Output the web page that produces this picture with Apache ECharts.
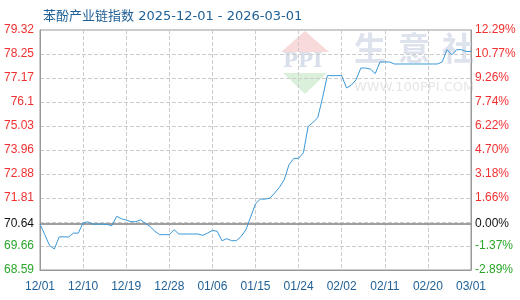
<!DOCTYPE html>
<html>
<head>
<meta charset="utf-8">
<script src="https://cdn.jsdelivr.net/npm/echarts@6/dist/echarts.min.js"></script>
<style>html,body{margin:0;padding:0;background:#fff;}#c{width:520px;height:300px;}</style>
</head>
<body>
<div id="c"></div>
<script>
const titleText = '苯酚产业链指数 2025-12-01 - 2026-03-01';
const dates = [
'12/01','12/02','12/03','12/04','12/05','12/06','12/07','12/08','12/09','12/10',
'12/11','12/12','12/13','12/14','12/15','12/16','12/17','12/18','12/19','12/20',
'12/21','12/22','12/23','12/24','12/25','12/26','12/27','12/28','12/29','12/30',
'12/31','01/01','01/02','01/03','01/04','01/05','01/06','01/07','01/08','01/09',
'01/10','01/11','01/12','01/13','01/14','01/15','01/16','01/17','01/18','01/19',
'01/20','01/21','01/22','01/23','01/24','01/25','01/26','01/27','01/28','01/29',
'01/30','01/31','02/01','02/02','02/03','02/04','02/05','02/06','02/07','02/08',
'02/09','02/10','02/11','02/12','02/13','02/14','02/15','02/16','02/17','02/18',
'02/19','02/20','02/21','02/22','02/23','02/24','02/25','02/26','02/27','02/28',
'03/01'];
const indexValues = [
70.64,70.17,69.68,69.53,70.07,70.07,70.07,70.24,70.24,70.70,
70.74,70.64,70.64,70.64,70.63,70.57,70.99,70.88,70.82,70.75,
70.75,70.83,70.68,70.53,70.32,70.17,70.17,70.17,70.39,70.20,
70.20,70.20,70.20,70.20,70.14,70.24,70.36,70.32,69.90,69.99,
69.90,69.90,70.09,70.39,70.97,71.55,71.76,71.76,71.80,72.03,
72.29,72.63,73.30,73.58,73.58,73.83,75.01,75.19,75.40,76.29,
77.28,77.28,77.28,77.28,76.73,76.85,77.10,77.62,77.62,77.57,
77.37,77.89,77.89,77.89,77.80,77.80,77.80,77.80,77.80,77.80,
77.80,77.80,77.80,77.80,77.90,78.44,78.21,78.44,78.44,78.36,
78.36];
const baseValue = 70.64;
const baseLabelLeft = '70.64';
const baseLabelRight = '0.00%';
const yMin = 68.59, yMax = 79.32;
const leftTicks = ['68.59','69.66','','71.81','72.88','73.96','75.03','76.1','77.17','78.25','79.32'];
const rightTicks = ['-2.89%','-1.37%','','1.66%','3.18%','4.70%','6.22%','7.74%','9.26%','10.77%','12.29%'];
const watermarkChars = ['生','意','社'];
const watermarkUrl = 'WWW.100PPI.COM';

const yInterval = (yMax - yMin) / 10;
function tickIdx(v){ return Math.round((v - yMin) / yInterval); }
function fmt(list){
  return function(v){
    const i = tickIdx(v);
    const s = list[i];
    if (!s) return '';
    return (i < 2 ? '{g|' : '{r|') + s + '}';
  };
}
const fontFam = '"Liberation Sans", Arial, sans-serif';
const richStyles = {
  g: {color:'#2aa52a', fontSize:12, fontFamily:fontFam},
  r: {color:'#f03030', fontSize:12, fontFamily:fontFam}
};
const wmLeft = [354, 398, 442];
const wmGraphics = watermarkChars.map(function(ch, i){
  return {type:'text', silent:true, z:0, left:wmLeft[i], top:32,
    style:{text:ch, fill:'#dde2ed', font:'bold 32px "Noto Sans CJK SC", sans-serif'}};
});

const chart = echarts.init(document.getElementById('c'), null, {renderer:'canvas'});
chart.setOption({
  animation:false,
  backgroundColor:'#fff',
  title:{
    text:titleText, left:38, top:5,
    textStyle:{color:'#1f6096', fontSize:13, fontWeight:'normal', fontFamily:'"DejaVu Sans", "Noto Sans CJK SC", sans-serif'}
  },
  graphic:[
    {type:'polygon', silent:true, z:0, shape:{points:[[305,31],[281,52],[329,52]]}, style:{fill:'#f9dada'}},
    {type:'text', silent:true, z:0, left:283, top:52, style:{text:'PPI', fill:'#d8deea', font:'bold 20px "DejaVu Serif", serif'}},
    {type:'polygon', silent:true, z:0, shape:{points:[[283,73],[327,73],[305,94]]}, style:{fill:'#daf0da'}},
    {type:'text', silent:true, z:0, left:354, top:81, style:{text:watermarkUrl, fill:'#e6e6e6', font:'13px "DejaVu Sans", sans-serif'}}
  ].concat(wmGraphics),
  grid:{left:40, right:49, top:30, bottom:30, show:true, borderColor:'#999', borderWidth:1, backgroundColor:'transparent'},
  xAxis:{
    type:'category', data:dates, boundaryGap:false,
    axisLine:{show:true, lineStyle:{color:'#999'}},
    axisTick:{show:false},
    axisLabel:{interval:8, color:'#1f6096', fontSize:12, fontFamily:fontFam, margin:11},
    splitLine:{show:true, interval:8, lineStyle:{color:'#ccc', type:'dashed'}}
  },
  yAxis:[
    {
      type:'value', min:yMin, max:yMax, interval:yInterval, position:'left',
      axisLine:{show:true, lineStyle:{color:'#999'}},
      axisTick:{show:false},
      axisLabel:{formatter:fmt(leftTicks), rich:richStyles, margin:6},
      splitLine:{show:true, lineStyle:{color:'#ccc', type:'dashed'}}
    },
    {
      type:'value', min:yMin, max:yMax, interval:yInterval, position:'right',
      axisLine:{show:true, lineStyle:{color:'#999'}},
      axisTick:{show:false},
      axisLabel:{formatter:fmt(rightTicks), rich:richStyles, margin:4},
      splitLine:{show:false}
    }
  ],
  series:[{
    type:'line', data:indexValues, yAxisIndex:0, showSymbol:false, symbol:'none', z:5,
    lineStyle:{color:'#3a98d8', width:1},
    itemStyle:{color:'#3a98d8'},
    markLine:{
      silent:true, symbol:['none','none'], animation:false,
      lineStyle:{color:'#999', type:'solid', width:1.5},
      data:[
        {yAxis:baseValue, label:{show:true, position:'start', formatter:baseLabelLeft, color:'#111', fontSize:12, fontFamily:fontFam, distance:6}},
        {yAxis:baseValue, label:{show:true, position:'end', formatter:baseLabelRight, color:'#111', fontSize:12, fontFamily:fontFam, distance:4}}
      ]
    }
  }]
});
</script>
</body>
</html>
